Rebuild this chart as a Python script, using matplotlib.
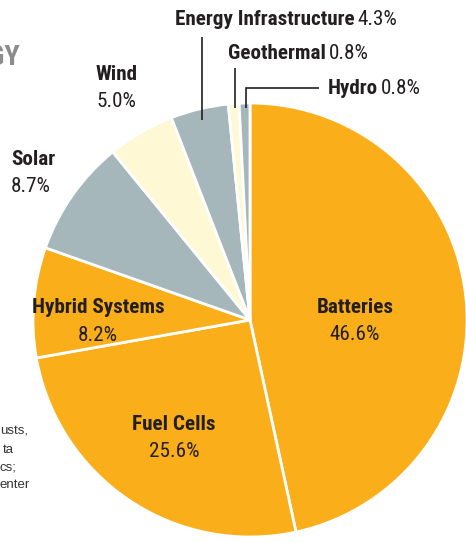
import matplotlib
matplotlib.use("Agg")
import matplotlib.pyplot as plt
from matplotlib import font_manager as fm
from matplotlib.textpath import TextPath

# ---- data ----
categories = ['Batteries', 'Fuel Cells', 'Hybrid Systems', 'Solar', 'Wind',
              'Energy Infrastructure', 'Geothermal', 'Hydro']
shares = [46.6, 25.6, 8.2, 8.7, 5.0, 4.3, 0.8, 0.8]
title_text = 'TECHNOLOGY'
note_fragments = ['usts,', 'ta', 'cs;', 'enter']

ORANGE = '#F9AE1A'
GRAY = '#A5B7BB'
PALE = '#FFF8D5'
colors = [ORANGE, ORANGE, ORANGE, GRAY, PALE, GRAY, PALE, GRAY]
TXT = '#231F20'

# ---- pick the installed font closest to a bold condensed face ----
TARGET_W = {'Batteries': 79, 'Fuel Cells': 81, 'Hybrid Systems': 133,
            'Energy Infrastructure': 182}
CAP_PX = 15.0

BASES = ['DejaVu Sans', 'Liberation Sans', 'Noto Sans', 'Roboto',
         'Open Sans', 'Lato', 'Inter']
ALLOWED = set()
for b_ in BASES:
    ALLOWED.add(b_)
    for suf in (' Condensed', ' Narrow', ' SemiCondensed', ' ExtraCondensed',
                ' Cond', ' Semi Condensed', ' Extra Condensed'):
        ALLOWED.add(b_ + suf)


def wnum(w):
    if isinstance(w, str):
        return fm.weight_dict.get(w, 400)
    return int(w)


groups = {}
for e in fm.fontManager.ttflist:
    if e.name not in ALLOWED or e.style != 'normal':
        continue
    groups.setdefault((e.name, e.stretch), []).append(e)

best = None
for key, ents in groups.items():
    bolds = [e for e in ents if 600 <= wnum(e.weight) <= 800]
    regs = [e for e in ents if 350 <= wnum(e.weight) <= 450]
    if not bolds or not regs:
        continue
    b = min(bolds, key=lambda e: abs(wnum(e.weight) - 700))
    r = min(regs, key=lambda e: abs(wnum(e.weight) - 400))
    try:
        pb = fm.FontProperties(fname=b.fname)
        sumw = sum(TextPath((0, 0), s, size=100, prop=pb).get_extents().width
                   for s in TARGET_W)
        cap = TextPath((0, 0), 'H', size=100, prop=pb).get_extents().height
    except Exception:
        continue
    if cap <= 0:
        continue
    ratio = sumw / cap
    score = abs(ratio - sum(TARGET_W.values()) / CAP_PX)
    if best is None or score < best[0]:
        best = (score, b.fname, r.fname, sumw, cap)

if best is None:
    bold_file = fm.findfont(fm.FontProperties(family='DejaVu Sans', weight='bold'))
    reg_file = fm.findfont(fm.FontProperties(family='DejaVu Sans'))
    pb = fm.FontProperties(fname=bold_file)
    sumw = sum(TextPath((0, 0), s, size=100, prop=pb).get_extents().width
               for s in TARGET_W)
    cap = TextPath((0, 0), 'H', size=100, prop=pb).get_extents().height
else:
    _, bold_file, reg_file, sumw, cap = best

em_w = sum(TARGET_W.values()) / (sumw / 100.0)
em_h = CAP_PX / (cap / 100.0)
em_px = min(em_w, em_h)
FS = em_px * 72 / 100.0

BOLD = fm.FontProperties(fname=bold_file, size=FS)
REG = fm.FontProperties(fname=reg_file, size=FS)
TITLE = fm.FontProperties(fname=bold_file, size=FS * 1.35)

W, H = 466, 543
fig = plt.figure(figsize=(W / 100, H / 100), dpi=100)
ax = fig.add_axes([0, 0, 1, 1])


def Y(py):
    return H - py


ax.pie(shares, colors=colors, startangle=90, counterclock=False,
       center=(250, Y(320)), radius=217,
       wedgeprops=dict(edgecolor='white', linewidth=2.0))
ax.set_xlim(0, W)
ax.set_ylim(0, H)
ax.set_aspect('equal')
ax.axis('off')

# two-line labels: (index, x, baseline1, baseline2, ha)
two_line = [
    (0, 355, 313, 340, 'center'),
    (1, 174, 430, 457, 'center'),
    (2, 98, 313, 341, 'center'),
    (3, 11, 165, 192, 'left'),
    (4, 96, 80, 107, 'left'),
]
for i, x, b1, b2, ha in two_line:
    ax.text(x, Y(b1), categories[i], ha=ha, va='baseline',
            fontproperties=BOLD, color=TXT)
    ax.text(x, Y(b2), f"{shares[i]:.1f}%", ha=ha, va='baseline',
            fontproperties=REG, color=TXT)

# one-line labels with leader lines
renderer = fig.canvas.get_renderer()
one_line = [
    (5, 175, 25),
    (6, 228, 59),
    (7, 328, 94),
]
for i, x, b in one_line:
    t = ax.text(x, Y(b), categories[i], ha='left', va='baseline',
                fontproperties=BOLD, color=TXT)
    bb = t.get_window_extent(renderer)
    ax.text(bb.x1 + 3, Y(b), f"{shares[i]:.1f}%", ha='left', va='baseline',
            fontproperties=REG, color=TXT)

lw = 1.2
ax.plot([202, 202], [Y(37), Y(120)], color=TXT, lw=lw, solid_capstyle='butt')
ax.plot([235, 235], [Y(68), Y(108)], color=TXT, lw=lw, solid_capstyle='butt')
ax.plot([246, 246, 319], [Y(108), Y(88), Y(88)], color=TXT, lw=lw,
        solid_capstyle='butt', solid_joinstyle='miter')

# cropped title at top left
ax.text(20, Y(65), title_text, ha='right', va='baseline',
        fontproperties=TITLE, color='#8C8C8C')

# cropped footnote fragments at bottom left
note_baselines = [435, 453, 470, 488]
note_x = [0, 3, 0, 0]
for s, x, b in zip(note_fragments, note_x, note_baselines):
    ax.text(x, Y(b), s, ha='left', va='baseline', fontsize=9.5,
            family=['Liberation Sans', 'DejaVu Sans'], color='#333333')

fig.savefig('out.png', dpi=100)
